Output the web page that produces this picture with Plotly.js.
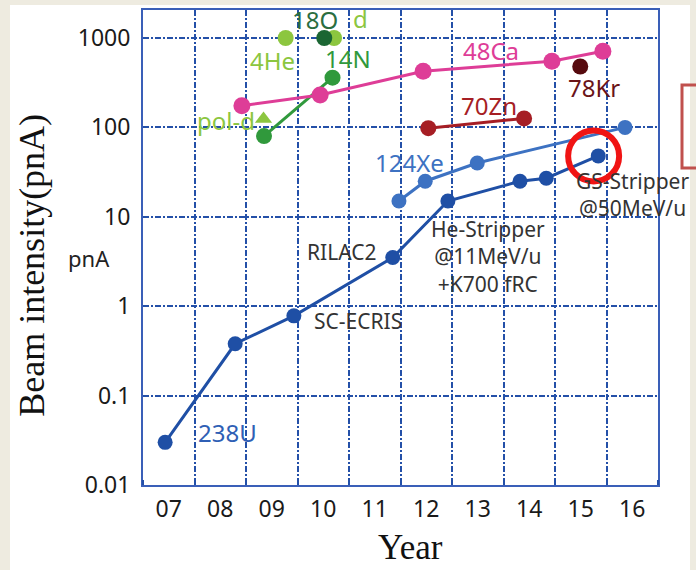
<!DOCTYPE html>
<html>
<head>
<meta charset="utf-8">
<script src="https://cdn.plot.ly/plotly-3.0.1.min.js"></script>
<style>
  html, body { margin: 0; padding: 0; background: #eeebe0; }
  #chart { width: 696px; height: 570px; }
</style>
</head>
<body>
<div id="chart"></div>
<script>
// Beam intensity history per ion species (x: year index, 07 = 2007; y: pnA)
const years238U = [6.93, 8.29, 9.43, 11.35, 12.42, 13.82, 14.33, 15.34];
const beam238U  = [0.03, 0.38, 0.78, 3.5, 15, 25, 27, 48];

const years124Xe = [11.47, 11.98, 12.99, 15.86];
const beam124Xe  = [15, 25, 40, 100];

const years48Ca = [8.42, 9.94, 11.94, 14.44, 15.43];
const beam48Ca  = [175, 230, 425, 550, 710];

const years70Zn = [12.04, 13.9];
const beam70Zn  = [98, 126];

const years78Kr = [14.99];
const beam78Kr  = [480];

const years14N = [8.85, 10.18];
const beam14N  = [80, 360];

const yearsPolD = [8.84];
const beamPolD  = [124];

const years4He = [9.27];
const beam4He  = [1000];

const yearsD = [10.21];
const beamD  = [1000];

const years18O = [10.02];
const beam18O  = [1000];

// highlighted latest 238U result
const highlightYear = [15.25];
const highlightBeam = [48];

const yearTicks    = [7, 8, 9, 10, 11, 12, 13, 14, 15, 16];
const yearTickText = ['07', '08', '09', '10', '11', '12', '13', '14', '15', '16'];
const beamTicks    = [0.01, 0.1, 1, 10, 100, 1000];
const beamTickText = ['0.01', '0.1', '1', '10', '100', '1000'];

const SANS = 'Noto Sans, Open Sans, DejaVu Sans, sans-serif';
const SERIF = 'Liberation Serif, DejaVu Serif, serif';
const GRID = '#2450a8';
const GRID_DASH = '6px,2px,2px,2px';

function series(x, y, color, opts) {
  opts = opts || {};
  return {
    type: 'scatter',
    mode: opts.mode || 'lines+markers',
    x: x, y: y,
    line: { color: color, width: opts.width || 3 },
    marker: {
      color: color,
      size: opts.size || 15,
      symbol: opts.symbol || 'circle',
      line: { width: 0 }
    },
    hoverinfo: 'skip',
    showlegend: false
  };
}

const traces = [
  series(years124Xe, beam124Xe, '#3d72c2', { size: 15 }),
  series(years238U, beam238U, '#1f4fa5', { size: 15 }),
  series(years14N, beam14N, '#30993c', { size: 16 }),
  series(yearsPolD, beamPolD, '#8cc63f', { mode: 'markers', symbol: 'triangle-up', size: 15 }),
  series(years4He, beam4He, '#8cc63f', { mode: 'markers', size: 16 }),
  series(yearsD, beamD, '#8cc63f', { mode: 'markers', size: 16 }),
  series(years18O, beam18O, '#1b6633', { mode: 'markers', size: 16 }),
  series(years48Ca, beam48Ca, '#de3d97', { size: 17 }),
  series(years70Zn, beam70Zn, '#a61e24', { size: 16 }),
  series(years78Kr, beam78Kr, '#560a0e', { mode: 'markers', size: 16 }),
  {
    type: 'scatter', mode: 'markers',
    x: highlightYear, y: highlightBeam,
    marker: { symbol: 'circle-open', size: 51, color: '#f01414', line: { width: 6, color: '#f01414' } },
    hoverinfo: 'skip', showlegend: false
  }
];

function label(text, x, y, color, size) {
  return {
    text: text, x: x, y: Math.log10(y), xref: 'x', yref: 'y',
    showarrow: false, xanchor: 'center', yanchor: 'middle',
    font: { family: SANS, size: size, color: color }
  };
}

const annotations = [
  label('18O', 9.84, 1610, '#2b6e3f', 24),
  label('d', 10.73, 1650, '#8cc63f', 24),
  label('4He', 9.02, 560, '#8cc63f', 24),
  label('14N', 10.48, 590, '#30993c', 24),
  label('pol-d', 8.11, 119, '#8cc63f', 24),
  label('48Ca', 13.26, 725, '#de3d97', 24),
  label('78Kr', 15.26, 279, '#6a1418', 24),
  label('70Zn', 13.22, 176, '#a61e24', 24),
  label('124Xe', 11.67, 40.5, '#3d72c2', 24),
  label('238U', 8.15, 0.0386, '#2f5fb5', 24),
  label('RILAC2', 10.35, 4.0, '#333333', 21),
  label('SC-ECRIS', 10.68, 0.675, '#333333', 21),
  label('He-Stripper<br>@11MeV/u<br>+K700 fRC', 13.2, 3.6, '#333333', 21),
  label('GS-Stripper<br>@50MeV/u', 16.0, 17.7, '#333333', 21),
  {
    text: 'pnA', xref: 'paper', yref: 'y', x: -0.105, y: 0.534,
    showarrow: false, xanchor: 'center', yanchor: 'middle',
    font: { family: SANS, size: 22, color: '#222222' }
  },
  // axis titles
  {
    text: 'Beam intensity(pnA)', xref: 'paper', yref: 'paper',
    x: -0.216, y: 0.463, textangle: -90,
    showarrow: false, xanchor: 'center', yanchor: 'middle',
    font: { family: SERIF, size: 36, color: '#111111' }
  },
  {
    text: 'Year', xref: 'paper', yref: 'paper',
    x: 0.52, y: -0.132,
    showarrow: false, xanchor: 'center', yanchor: 'middle',
    font: { family: SERIF, size: 35, color: '#111111' }
  }
];

const layout = {
  width: 696, height: 570,
  margin: { l: 143, r: 38, t: 10, b: 85 },
  paper_bgcolor: '#eeebe0',
  plot_bgcolor: '#ffffff',
  showlegend: false,
  xaxis: {
    range: [6.5, 16.5],
    tickvals: yearTicks, ticktext: yearTickText,
    ticks: '', showgrid: false, zeroline: false,
    showline: true, mirror: true, linecolor: '#3a5fb8', linewidth: 2,
    tickfont: { family: SANS, size: 23, color: '#1a1a1a' },
    ticklabelstandoff: 2,
    minor: {
      tick0: 6.5, dtick: 1, showgrid: true,
      gridcolor: GRID, gridwidth: 2, griddash: GRID_DASH,
      ticks: 'inside', ticklen: 5, tickcolor: GRID, tickwidth: 2
    },
    fixedrange: true
  },
  yaxis: {
    type: 'log',
    range: [-2, 3.313],
    tickvals: beamTicks, ticktext: beamTickText,
    ticks: 'inside', ticklen: 5, tickcolor: GRID, tickwidth: 2,
    showgrid: true, gridcolor: GRID, gridwidth: 2, griddash: GRID_DASH,
    zeroline: false,
    showline: true, mirror: true, linecolor: '#3a5fb8', linewidth: 2,
    tickfont: { family: SANS, size: 23, color: '#1a1a1a' },
    ticklabelstandoff: 6,
    fixedrange: true
  },
  annotations: annotations,
  shapes: [
    // white slide area behind the chart
    { type: 'rect', xref: 'paper', yref: 'paper', x0: -0.2583, x1: 1.0621, y0: -0.25, y1: 1.0105,
      fillcolor: '#ffffff', line: { width: 0 }, layer: 'below' },
    // edge of neighbouring callout box
    { type: 'rect', xref: 'paper', yref: 'paper', x0: 1.0466, x1: 1.12, y0: 0.6674, y1: 0.8421,
      fillcolor: 'rgba(0,0,0,0)', line: { color: '#c0504d', width: 3 }, layer: 'above' }
  ]
};

Plotly.newPlot('chart', traces, layout, { displayModeBar: false, staticPlot: true });
</script>
</body>
</html>
